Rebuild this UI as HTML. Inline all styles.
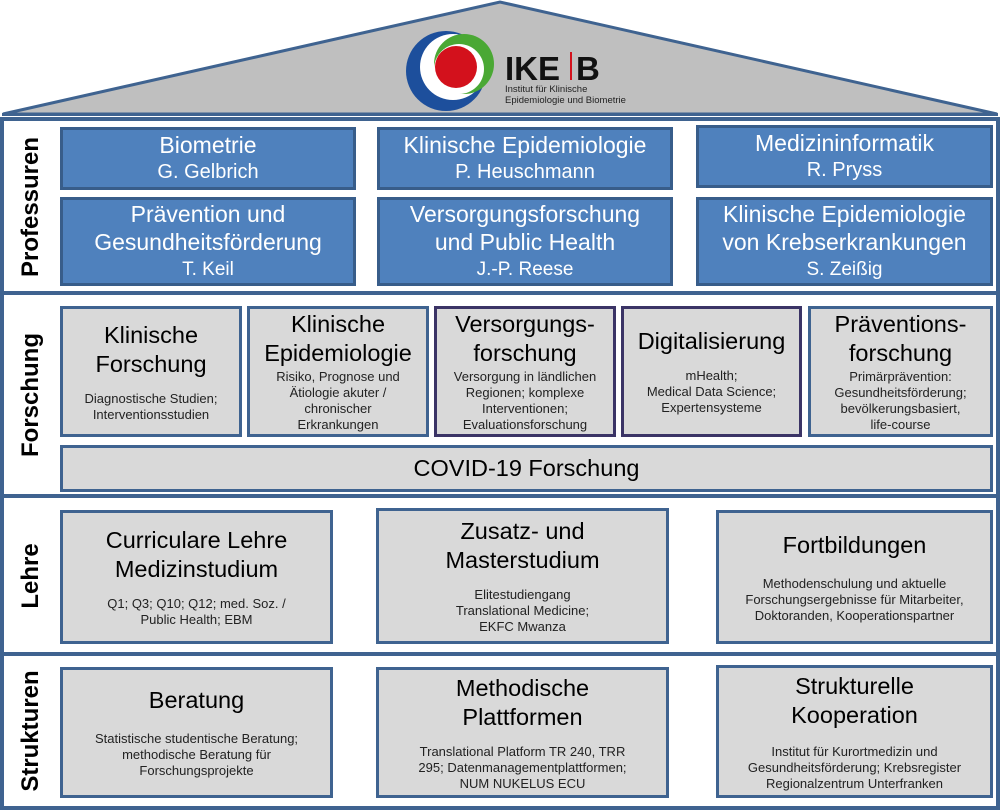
<!DOCTYPE html>
<html><head><meta charset="utf-8"><style>
body{margin:0;width:1000px;height:811px;background:#fff;position:relative;overflow:hidden;font-family:"Liberation Sans",sans-serif}
.b{position:absolute;box-sizing:border-box;text-align:center;color:#000}
.bl{background:#4f81bd;border:3px solid #385d8a;color:#fff;font-size:23px;line-height:27px;display:flex;flex-direction:column;justify-content:center}
.g{background:#d9d9d9;border:3px solid #3f6390;display:flex;flex-direction:column;justify-content:center}
.p{border-color:#3b3466}
.t{font-size:23.5px;line-height:29px}
.s{font-size:13px;line-height:16px;color:#222;margin-top:8px}
.v{position:absolute;font-weight:bold;font-size:24px;transform:translate(-50%,-50%) rotate(-90deg);white-space:nowrap;left:31px}
.h{position:absolute;left:2px;width:996px;height:4px;background:#3f6390}
</style></head><body>
<svg width="1000" height="811" style="position:absolute;left:0;top:0">
<polygon points="3,114 500,2 997,114" fill="#bfbfbf" stroke="#3f6390" stroke-width="3"/>
<rect x="2" y="113" width="996" height="3" fill="#3f6390"/>
<rect x="2" y="119" width="996" height="689" fill="none" stroke="#3f6390" stroke-width="4"/>
<circle cx="446" cy="71" r="40" fill="#1d4f9c"/>
<circle cx="453" cy="67" r="33" fill="#fff"/>
<circle cx="464" cy="64" r="30" fill="#4aa834"/>
<circle cx="459" cy="69" r="25" fill="#fff"/>
<circle cx="456" cy="67" r="21" fill="#d3111c"/>
<text x="505" y="80" font-family="Liberation Sans" font-weight="bold" font-size="33" fill="#111">IKE</text>
<rect x="570" y="52" width="2" height="28" fill="#d3111c"/>
<text x="576" y="80" font-family="Liberation Sans" font-weight="bold" font-size="33" fill="#111">B</text>
<text x="505" y="92" font-family="Liberation Sans" font-size="9.5" fill="#222">Institut für Klinische</text>
<text x="505" y="103" font-family="Liberation Sans" font-size="9.5" fill="#222">Epidemiologie und Biometrie</text>
</svg>
<div class="h" style="top:291px"></div>
<div class="h" style="top:494px"></div>
<div class="h" style="top:652px"></div>
<div class="v" style="top:207px">Professuren</div>
<div class="v" style="top:395px">Forschung</div>
<div class="v" style="top:576px">Lehre</div>
<div class="v" style="top:731px">Strukturen</div>

<div class="b bl" style="left:60px;top:127px;width:296px;height:63px">Biometrie<br><span style="font-size:20px">G. Gelbrich</span></div>
<div class="b bl" style="left:377px;top:127px;width:296px;height:63px">Klinische Epidemiologie<br><span style="font-size:20px">P. Heuschmann</span></div>
<div class="b bl" style="left:696px;top:125px;width:297px;height:63px">Medizininformatik<br><span style="font-size:20px">R. Pryss</span></div>
<div class="b bl" style="left:60px;top:197px;width:296px;height:89px;line-height:28px">Prävention und<br>Gesundheitsförderung<br><span style="font-size:19px">T. Keil</span></div>
<div class="b bl" style="left:377px;top:197px;width:296px;height:89px;line-height:28px">Versorgungsforschung<br>und Public Health<br><span style="font-size:19px">J.-P. Reese</span></div>
<div class="b bl" style="left:696px;top:197px;width:297px;height:89px;line-height:28px">Klinische Epidemiologie<br>von Krebserkrankungen<br><span style="font-size:19px">S. Zeißig</span></div>

<div class="b g" style="left:60px;top:306px;width:182px;height:131px"><div class="t">Klinische<br>Forschung</div><div class="s" style="margin-top:12px">Diagnostische Studien;<br>Interventionsstudien</div></div>
<div class="b g" style="left:247px;top:306px;width:182px;height:131px"><div class="t">Klinische<br>Epidemiologie</div><div class="s" style="margin-top:1px">Risiko, Prognose und<br>Ätiologie akuter /<br>chronischer<br>Erkrankungen</div></div>
<div class="b g p" style="left:434px;top:306px;width:182px;height:131px"><div class="t">Versorgungs-<br>forschung</div><div class="s" style="margin-top:1px">Versorgung in ländlichen<br>Regionen; komplexe<br>Interventionen;<br>Evaluationsforschung</div></div>
<div class="b g p" style="left:621px;top:306px;width:181px;height:131px"><div class="t">Digitalisierung</div><div class="s" style="margin-top:12px">mHealth;<br>Medical Data Science;<br>Expertensysteme</div></div>
<div class="b g" style="left:808px;top:306px;width:185px;height:131px"><div class="t">Präventions-<br>forschung</div><div class="s" style="margin-top:1px">Primärprävention:<br>Gesundheitsförderung;<br>bevölkerungsbasiert,<br>life-course</div></div>
<div class="b g" style="left:60px;top:445px;width:933px;height:47px"><div class="t">COVID-19 Forschung</div></div>

<div class="b g" style="left:60px;top:510px;width:273px;height:134px"><div class="t">Curriculare Lehre<br>Medizinstudium</div><div class="s" style="margin-top:12px">Q1; Q3; Q10; Q12; med. Soz. /<br>Public Health; EBM</div></div>
<div class="b g" style="left:376px;top:508px;width:293px;height:136px"><div class="t">Zusatz- und<br>Masterstudium</div><div class="s" style="margin-top:12px">Elitestudiengang<br>Translational Medicine;<br>EKFC Mwanza</div></div>
<div class="b g" style="left:716px;top:510px;width:277px;height:134px"><div class="t">Fortbildungen</div><div class="s" style="margin-top:16px">Methodenschulung und aktuelle<br>Forschungsergebnisse für Mitarbeiter,<br>Doktoranden, Kooperationspartner</div></div>

<div class="b g" style="left:60px;top:667px;width:273px;height:131px"><div class="t">Beratung</div><div class="s" style="margin-top:16px">Statistische studentische Beratung;<br>methodische Beratung für<br>Forschungsprojekte</div></div>
<div class="b g" style="left:376px;top:667px;width:293px;height:131px"><div class="t">Methodische<br>Plattformen</div><div class="s" style="margin-top:12px">Translational Platform TR 240, TRR<br>295; Datenmanagementplattformen;<br>NUM NUKELUS ECU</div></div>
<div class="b g" style="left:716px;top:665px;width:277px;height:133px"><div class="t">Strukturelle<br>Kooperation</div><div class="s" style="margin-top:14px">Institut für Kurortmedizin und<br>Gesundheitsförderung; Krebsregister<br>Regionalzentrum Unterfranken</div></div>
</body></html>
